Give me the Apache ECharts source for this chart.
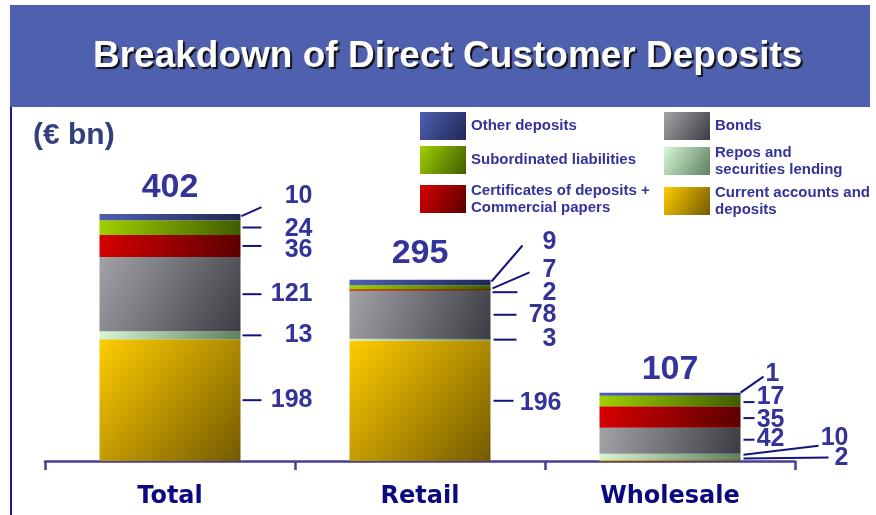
<!DOCTYPE html>
<html>
<head>
<meta charset="utf-8">
<script src="https://cdn.jsdelivr.net/npm/echarts@6/dist/echarts.min.js"></script>
<style>
html, body { margin: 0; padding: 0; background: #fff; }
#main { width: 876px; height: 515px; }
</style>
</head>
<body>
<div id="main"></div>
<script>
// values in EUR bn
var categories = ['Total', 'Retail', 'Wholesale'];
var currentAccounts = [198, 196, 2];
var repos = [13, 3, 10];
var bonds = [121, 78, 42];
var certificates = [36, 2, 35];
var subordinated = [24, 7, 17];
var otherDeposits = [10, 9, 1];

var barWidth = 141;
var labelColor = '#333399';
var lineColor = '#14147e';
var font = '"Liberation Sans", Arial, sans-serif';

function grad(a, b) {
	return new echarts.graphic.LinearGradient(0, 0, 1, 1, [
		{offset: 0, color: a}, {offset: 1, color: b}
	]);
}

// bottom to top
var stackDefs = [
	{name: 'Current accounts and\ndeposits', data: currentAccounts, color: grad('#ffcc00', '#735a00')},
	{name: 'Repos and\nsecurities lending', data: repos, color: grad('#d6f7d6', '#5f805f')},
	{name: 'Bonds', data: bonds, color: grad('#a2a2a8', '#3c3c44')},
	{name: 'Certificates of deposits +\nCommercial papers', data: certificates, color: grad('#d80000', '#5a0000')},
	{name: 'Subordinated liabilities', data: subordinated, color: grad('#9fd000', '#3f5c00')},
	{name: 'Other deposits', data: otherDeposits, color: grad('#4f60b0', '#1f2758')}
];

// leader line [x1,y1,x2,y2] and text [right x, y], relative to bar right edge / segment middle
var labelSpots = [
	// Total
	[2, 0, 21, 0, 72, 0],
	[2, 0, 21, 0, 72, 0],
	[2, 0, 21, 0, 72, 0],
	[2, 0, 21, 0, 72, 4],
	[2, 0, 21, 0, 72, 2],
	[1, -1, 21, -10, 72, -21],
	// Retail
	[3, 0, 23, 0, 71, 2],
	[3, 0, 26, 0, 66, -1],
	[3, 0, 26, 0, 66, 0],
	[2, 2, 27, 2, 66, 3],
	[2, 1, 39, -15, 66, -17],
	[1, -1, 32, -37, 66, -40],
	// Wholesale
	[3, -2, 88, -3, 108, -2],
	[3, -2, 78, -11, 108, -19],
	[3, -1, 14, -1, 44, -2],
	[3, 1, 14, 1, 44, 3],
	[3, 1, 14, 1, 44, -4],
	[0, -3, 23, -19, 39, -21]
];

var segData = [];
var totalData = [];
categories.forEach(function (c, i) {
	var base = 0;
	stackDefs.forEach(function (d, s) {
		segData.push([i, base, d.data[i], i * stackDefs.length + s]);
		base += d.data[i];
	});
	totalData.push([i, base]);
});

var series = stackDefs.map(function (d) {
	return {
		name: d.name,
		type: 'bar',
		stack: 'dep',
		barWidth: barWidth,
		barMinHeight: 3,
		itemStyle: {color: d.color},
		emphasis: {disabled: true},
		data: d.data
	};
});

series.push({
	type: 'custom',
	silent: true,
	clip: false,
	z: 10,
	encode: {x: 0, y: 1},
	data: segData,
	renderItem: function (params, api) {
		var cat = api.value(0), base = api.value(1), val = api.value(2);
		var sp = labelSpots[api.value(3)];
		var p = api.coord([cat, base + val / 2]);
		var x0 = p[0] + barWidth / 2, y0 = p[1];
		return {
			type: 'group',
			children: [
				{type: 'line', shape: {x1: x0 + sp[0], y1: y0 + sp[1], x2: x0 + sp[2], y2: y0 + sp[3]},
					style: {stroke: lineColor, lineWidth: 2}},
				{type: 'text', style: {text: String(val), x: x0 + sp[4], y: y0 + sp[5],
					align: 'right', verticalAlign: 'middle', textAlign: 'right', textVerticalAlign: 'middle',
					font: 'bold 25px ' + font, fill: labelColor}}
			]
		};
	}
});

series.push({
	type: 'custom',
	silent: true,
	clip: false,
	z: 10,
	encode: {x: 0, y: 1},
	data: totalData,
	renderItem: function (params, api) {
		var p = api.coord([api.value(0), api.value(1)]);
		return {type: 'text', style: {text: String(api.value(1)), x: p[0], y: p[1] - 26,
			align: 'center', verticalAlign: 'middle', textAlign: 'center', textVerticalAlign: 'middle',
			font: 'bold 34px ' + font, fill: labelColor}};
	}
});

// one legend per entry so they sit in two columns like the slide
var legendSpots = [
	[664, 184], [664, 144], [664, 112], [420, 182], [420, 146], [420, 112]
];
var legends = stackDefs.map(function (d, i) {
	return {
		data: [d.name],
		left: legendSpots[i][0],
		top: legendSpots[i][1],
		padding: 0,
		icon: 'rect',
		itemWidth: 46,
		itemHeight: 28,
		selectedMode: false,
		textStyle: {color: labelColor, fontSize: 15, fontWeight: 'bold', fontFamily: font, lineHeight: 17}
	};
});

var chart = echarts.init(document.getElementById('main'));
chart.setOption({
	backgroundColor: '#fff',
	animation: false,
	title: {
		text: 'Breakdown of Direct Customer Deposits',
		left: 93,
		top: 38,
		padding: 0,
		textStyle: {
			color: '#fff', fontSize: 37, fontWeight: 'bold', fontFamily: font,
			textShadowColor: '#111', textShadowOffsetX: 2, textShadowOffsetY: 2, textShadowBlur: 1
		}
	},
	graphic: [
		{type: 'rect', z: -10, shape: {x: 10, y: 5, width: 860, height: 102}, style: {fill: '#4f60ae'}},
		{type: 'line', shape: {x1: 11, y1: 107, x2: 11, y2: 515}, style: {stroke: '#1a1a8c', lineWidth: 2}},
		{type: 'text', style: {text: '(€ bn)', x: 33, y: 136, textVerticalAlign: 'middle', verticalAlign: 'middle',
			font: 'bold 30px ' + font, fill: '#34407e'}}
	],
	legend: legends,
	grid: {left: 45, right: 81, top: 214, bottom: 54, outerBoundsMode: 'none'},
	xAxis: {
		type: 'category',
		data: categories,
		axisLine: {lineStyle: {color: '#4b3d8f', width: 2.5}},
		axisTick: {show: true, length: 9, interval: 0, lineStyle: {color: '#4b3d8f', width: 2.5}},
		axisLabel: {color: '#0a0a80', fontSize: 24, fontWeight: 'bold', fontFamily: 'DejaVu Sans', margin: 24}
	},
	yAxis: {type: 'value', min: 0, max: 402, show: false, splitLine: {show: false}},
	series: series
});
</script>
</body>
</html>
